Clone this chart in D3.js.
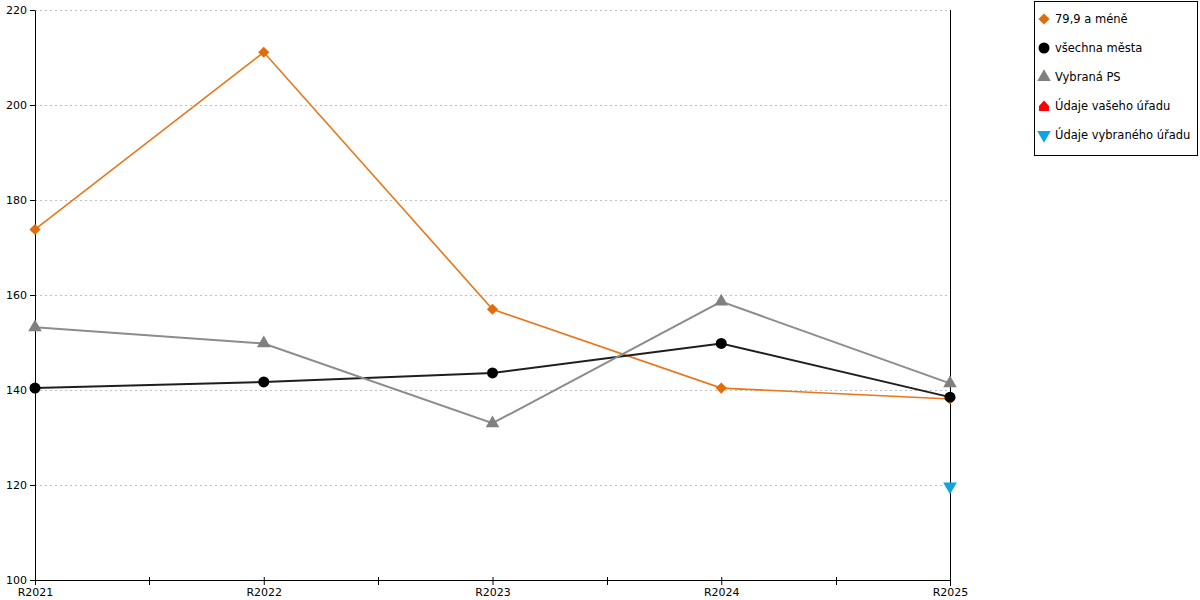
<!DOCTYPE html>
<html>
<head>
<meta charset="utf-8">
<script src="https://cdn.jsdelivr.net/npm/d3@7"></script>
<style>
  body { margin: 0; background: #fff; }
  svg { font-family: "DejaVu Sans", Verdana, sans-serif; }
</style>
</head>
<body>
<div id="chart"></div>
<script>
// Categories and series.
const years = ['R2021', 'R2022', 'R2023', 'R2024', 'R2025'];
const yTicks = [100, 120, 140, 160, 180, 200, 220];

const seriesNames = ['79,9 a méně', 'všechna města', 'Vybraná PS', 'Údaje vašeho úřadu', 'Údaje vybraného úřadu'];
const smallTown = [173.8, 211.1, 157.0, 140.4, 138.1];
const allCities = [140.4, 141.7, 143.6, 149.8, 138.5];
const chosenPS = [153.2, 149.8, 133.0, 158.6, 141.4];
const yourOffice = [null, null, null, null, null];
const chosenOffice = [null, null, null, null, 119.7];

const width = 1200, height = 600;
const margin = { top: 10, right: 250, bottom: 20, left: 35 };

const svg = d3.select('#chart').append('svg')
    .attr('width', width)
    .attr('height', height);

const x = d3.scalePoint().domain(years).range([margin.left, width - margin.right]);
const y = d3.scaleLinear().domain([100, 220]).range([height - margin.bottom, margin.top]);

// Grid lines (dashed)
svg.append('g')
    .selectAll('line')
    .data(yTicks.filter(t => t > 100))
    .enter().append('line')
    .attr('x1', x.range()[0]).attr('x2', x.range()[1])
    .attr('y1', d => y(d) + 0.5).attr('y2', d => y(d) + 0.5)
    .attr('stroke', '#c0c0c0')
    .attr('stroke-dasharray', '2,3');

// Y axis
const yAxis = svg.append('g')
    .attr('transform', `translate(${margin.left},0)`)
    .call(d3.axisLeft(y).tickValues(yTicks).tickSize(5).tickSizeOuter(0));
yAxis.select('.domain').attr('stroke', '#000');
yAxis.selectAll('text').attr('font-size', 11).attr('fill', '#000')
    .attr('font-family', '"DejaVu Sans", Verdana, sans-serif');

// Right axis line, no labels
const xr = Math.round(x.range()[1]) + 0.5;
svg.append('line')
    .attr('x1', xr).attr('x2', xr)
    .attr('y1', y(220)).attr('y2', y(100) + 6)
    .attr('stroke', '#000')
    .attr('shape-rendering', 'crispEdges');

// X axis
const xAxis = svg.append('g')
    .attr('transform', `translate(0,${y(100)})`)
    .call(d3.axisBottom(x).tickSize(5).tickSizeOuter(0).tickPadding(3));
xAxis.select('.domain').attr('stroke', '#000');
xAxis.selectAll('text').attr('font-size', 11).attr('fill', '#000')
    .attr('font-family', '"DejaVu Sans", Verdana, sans-serif');
xAxis.selectAll('.tick line').attr('y1', -3);

// Minor ticks between categories
const mids = years.slice(1).map((d, i) => Math.round((x(years[i]) + x(d)) / 2) + 0.5);
svg.append('g').selectAll('line')
    .data(mids)
    .enter().append('line')
    .attr('x1', d => d).attr('x2', d => d)
    .attr('y1', y(100) - 3).attr('y2', y(100) + 5)
    .attr('stroke', '#000');

// Series definitions
const series = [
    { name: seriesNames[0], values: smallTown, line: '#e8761b', fill: '#e06c0c', shape: d3.symbolSquare, size: 62, lw: 1.6, rotate: 45 },
    { name: seriesNames[1], values: allCities, line: '#1e1e1e', fill: '#000000', shape: d3.symbolCircle, size: 95, lw: 2 },
    { name: seriesNames[2], values: chosenPS, line: '#8c8c8c', fill: '#808080', shape: d3.symbolTriangle, size: 80, lw: 2 },
    { name: seriesNames[3], values: yourOffice, line: '#ff0000', fill: '#ff0000', shape: d3.symbolTriangle, size: 80, lw: 2 },
    { name: seriesNames[4], values: chosenOffice, line: '#0ca4e4', fill: '#0ca4e4', shape: d3.symbolTriangle, size: 80, lw: 2, rotate: 180 }
];

const line = d3.line()
    .defined(d => d.v !== null)
    .x(d => x(d.k))
    .y(d => y(d.v));

series.forEach(s => {
    const pts = years.map((k, i) => ({ k: k, v: s.values[i] }));
    svg.append('path')
        .datum(pts)
        .attr('fill', 'none')
        .attr('stroke', s.line)
        .attr('stroke-width', s.lw)
        .attr('d', line);
    svg.append('g').selectAll('path')
        .data(pts.filter(d => d.v !== null))
        .enter().append('path')
        .attr('d', d3.symbol().type(s.shape).size(s.size))
        .attr('transform', d => `translate(${x(d.k)},${y(d.v)}) rotate(${s.rotate || 0})`)
        .attr('fill', s.fill);
});

// Legend
const legend = svg.append('g').attr('transform', 'translate(1034,1)');
legend.append('rect')
    .attr('x', 0.5).attr('y', 0.5)
    .attr('width', 163).attr('height', 154)
    .attr('fill', '#fff').attr('stroke', '#000');

const item = legend.selectAll('.item')
    .data(series)
    .enter().append('g')
    .attr('class', 'item')
    .attr('transform', (d, i) => `translate(10,${18 + i * 29})`);

// Red office marker is drawn as a house-like pentagon in the legend
const house = 'M-5,0 L0,-5.5 L5,0 L5,5 L-5,5 Z';
item.append('path')
    .attr('d', (d, i) => i === 3 ? house : d3.symbol().type(d.shape).size(d.size)())
    .attr('transform', d => `rotate(${d.rotate || 0})`)
    .attr('fill', d => d.fill);
item.append('text')
    .attr('x', 11)
    .attr('dy', '0.35em')
    .attr('font-size', 11.5)
    .text(d => d.name);
</script>
</body>
</html>
